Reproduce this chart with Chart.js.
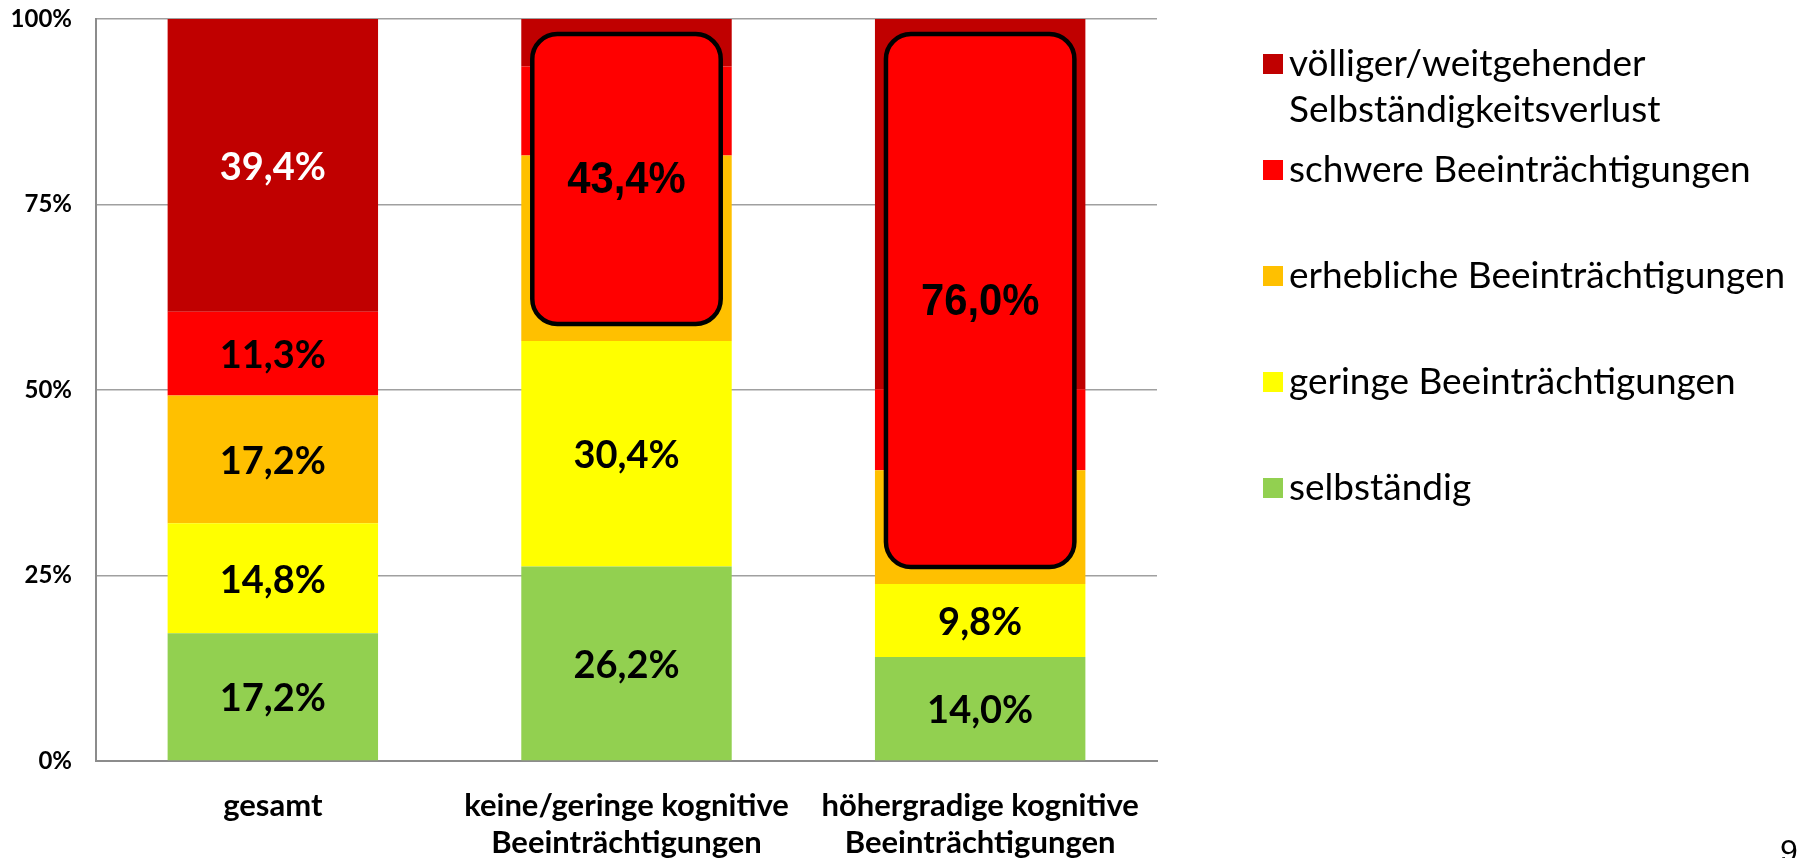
<!DOCTYPE html>
<html lang="de">
<head>
<meta charset="utf-8">
<title>Selbständigkeit nach kognitiver Beeinträchtigung</title>
<script src="https://cdn.jsdelivr.net/npm/chart.js@4.4.1/dist/chart.umd.min.js"></script>
<style>
  html, body { margin: 0; padding: 0; background: #fff; }
  #wrap { width: 1804px; height: 858px; }
</style>
</head>
<body>
<div id="wrap"><canvas id="myChart" width="1804" height="858"></canvas></div>
<script>
const categories = ['gesamt', ['keine/geringe kognitive', 'Beeinträchtigungen'], ['höhergradige kognitive', 'Beeinträchtigungen']];
const seriesNames = ['selbständig', 'geringe Beeinträchtigungen', 'erhebliche Beeinträchtigungen', 'schwere Beeinträchtigungen', ['völliger/weitgehender', 'Selbständigkeitsverlust']];
const selbstaendig = [17.2, 26.2, 14.0];
const gering = [14.8, 30.4, 9.8];
const erheblich = [17.2, 25.0, 15.3];
const schwer = [11.3, 12.0, 10.9];
const verlust = [39.4, 6.4, 49.8];
// sum of the three upper segments, shown in the rounded box instead
const boxValues = [null, 43.4, 76.0];
const yTicks = [0, 25, 50, 75, 100];
const colors = ['#92D050', '#FFFF00', '#FFC000', '#FF0000', '#C00000'];

const series = [selbstaendig, gering, erheblich, schwer, verlust];
const totals = categories.map((c, j) => series.reduce((s, arr) => s + arr[j], 0));

function fmt(v) {
  return v.toFixed(1).replace('.', ',') + '%';
}

// 100% stacked: every column is scaled to its own total
const datasets = series.map((arr, i) => ({
  label: Array.isArray(seriesNames[i]) ? seriesNames[i].join(' ') : seriesNames[i],
  data: arr.map((v, j) => v / totals[j] * 100),
  raw: arr,
  backgroundColor: colors[i],
  borderWidth: 0,
  barPercentage: 0.595,
  categoryPercentage: 1
}));

const segmentLabels = {
  id: 'segmentLabels',
  afterDatasetsDraw(chart) {
    const ctx = chart.ctx;
    ctx.save();
    ctx.textAlign = 'center';
    ctx.textBaseline = 'middle';
    ctx.font = 'bold 38px Lato';
    chart.data.datasets.forEach((ds, i) => {
      chart.getDatasetMeta(i).data.forEach((bar, j) => {
        if (boxValues[j] !== null && i >= 2) return;
        ctx.fillStyle = i === 4 ? '#fff' : '#000';
        ctx.fillText(fmt(ds.raw[j]), bar.x, (bar.y + bar.base) / 2 + 2);
      });
    });

    // rounded highlight boxes over the upper three segments
    boxValues.forEach((val, j) => {
      if (val === null) return;
      const low = chart.getDatasetMeta(2).data[j];
      const high = chart.getDatasetMeta(4).data[j];
      const x = low.x - low.width / 2 + 11;
      const w = low.width - 22;
      const y = high.y + 15;
      const h = low.base - 17 - y;
      ctx.beginPath();
      ctx.roundRect(x, y, w, h, 25);
      ctx.fillStyle = '#FF0000';
      ctx.fill();
      ctx.lineWidth = 4.5;
      ctx.strokeStyle = '#000';
      ctx.stroke();
      ctx.save();
      ctx.translate(low.x, y + h / 2 + 2);
      ctx.scale(0.95, 1);
      ctx.font = 'bold 44px "Liberation Sans", Arial';
      ctx.fillStyle = '#000';
      ctx.fillText(fmt(val), 0, 0);
      ctx.restore();
    });
    ctx.restore();
  }
};

const sideLegend = {
  id: 'sideLegend',
  afterDraw(chart) {
    const ctx = chart.ctx;
    const rows = [64, 170, 276, 382, 488];
    ctx.save();
    ctx.font = '37px Lato';
    ctx.textAlign = 'left';
    ctx.textBaseline = 'alphabetic';
    for (let k = 0; k < 5; k++) {
      const i = 4 - k;
      const cy = rows[k];
      ctx.fillStyle = colors[i];
      ctx.fillRect(1263, cy - 10, 20, 20);
      ctx.fillStyle = '#000';
      const lines = Array.isArray(seriesNames[i]) ? seriesNames[i] : [seriesNames[i]];
      lines.forEach((t, n) => ctx.fillText(t, 1289, cy + 12 + n * 46));
    }
    // slide number
    ctx.font = '32px "Liberation Sans", Arial';
    ctx.fillText('9', 1780, 862);
    ctx.restore();
  }
};

document.addEventListener('DOMContentLoaded', function() {
  const ctx = document.getElementById('myChart');

  new Chart(ctx, {
    type: 'bar',
    data: {
      labels: categories,
      datasets: datasets
    },
    plugins: [segmentLabels, sideLegend],
    options: {
      responsive: false,
      animation: false,
      layout: {
        padding: { top: 19, right: 647, bottom: 0, left: 0 }
      },
      plugins: {
        legend: { display: false },
        tooltip: { enabled: false }
      },
      scales: {
        x: {
          stacked: true,
          grid: { display: false, drawTicks: false },
          border: { display: true, color: '#8c8c8c', width: 2 },
          ticks: {
            color: '#000',
            padding: 26,
            font: { family: 'Lato', weight: 'bold', size: 31, lineHeight: 1.2 }
          },
          afterFit(scale) { scale.height = 97; }
        },
        y: {
          stacked: true,
          min: 0,
          max: 100,
          afterBuildTicks(scale) { scale.ticks = yTicks.map(v => ({ value: v })); },
          grid: { color: '#a0a0a0', lineWidth: 1.5, drawTicks: false },
          border: { display: true, color: '#8c8c8c', width: 2 },
          ticks: {
            color: '#000',
            padding: 24,
            font: { family: 'Lato', weight: 'bold', size: 24 },
            callback: v => v + '%'
          },
          afterFit(scale) {
            scale.width = 96;
            // tick padding should not push the plot area down
            scale.paddingTop = 12;
            scale.paddingBottom = 12;
          }
        }
      }
    }
  });
});
</script>
</body>
</html>
